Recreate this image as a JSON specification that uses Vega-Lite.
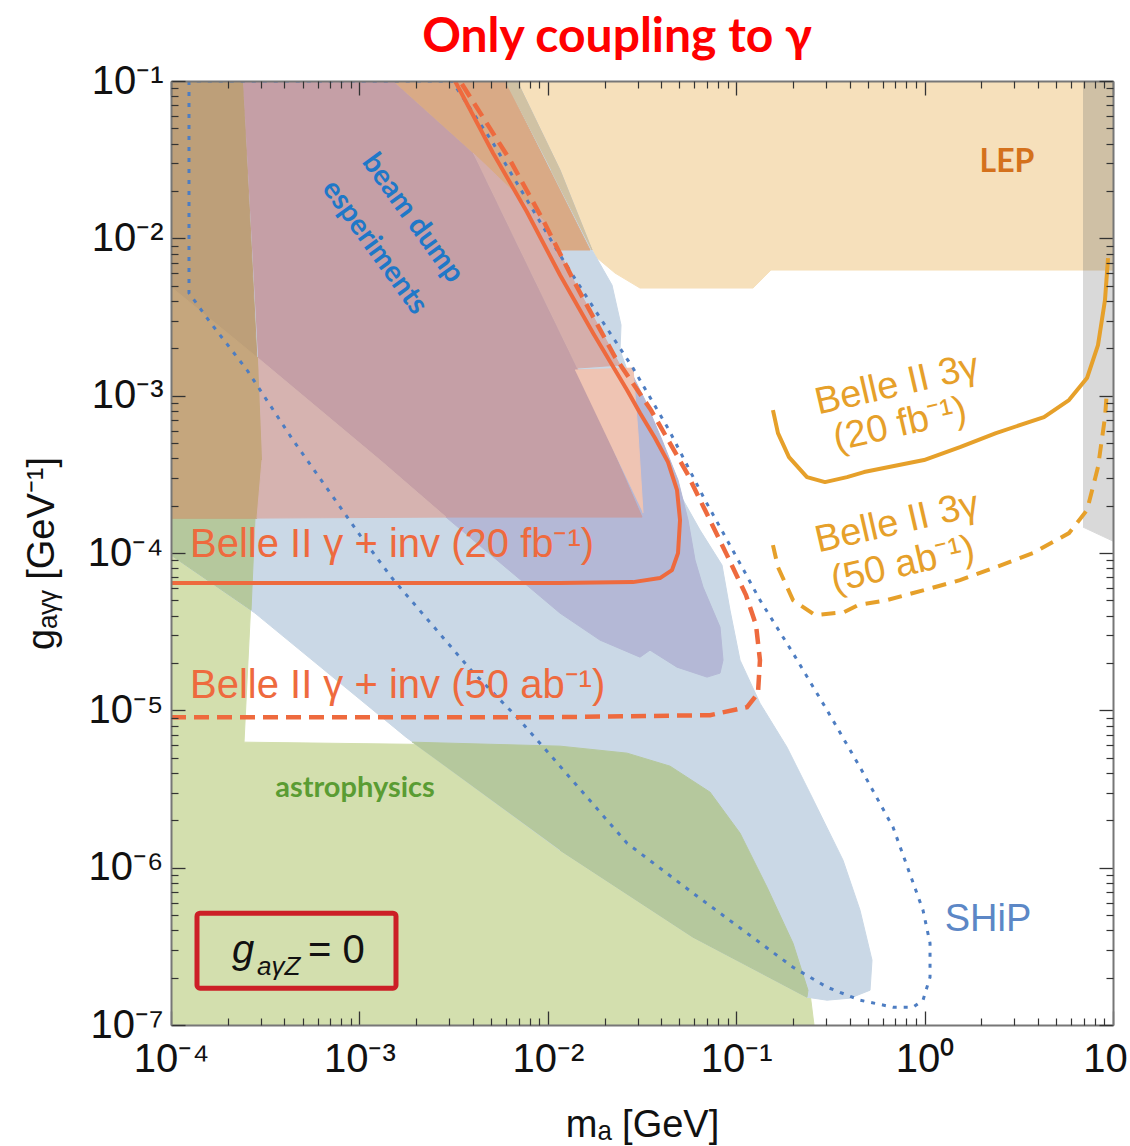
{
"$schema":"https://vega.github.io/schema/vega-lite/v6.json",
"width":942,"height":944,
"autosize":{"type":"none"},
"padding":{"left":171,"top":81,"right":17,"bottom":121},
"background":"white",
"config":{"view":{"stroke":null},"font":"Liberation Sans"},
"datasets":{
"lep":[{"i":0,"m":0.005926,"g":0.1},{"i":1,"m":10,"g":0.1},{"i":2,"m":10,"g":0.006286},{"i":3,"m":0.153,"g":0.006286},{"i":4,"m":0.1228,"g":0.004831},{"i":5,"m":0.03086,"g":0.004831},{"i":6,"m":0.02274,"g":0.006016},{"i":7,"m":0.01802,"g":0.007607}],
"gstrip":[{"i":0,"m":6.931,"g":0.1},{"i":1,"m":10,"g":0.1},{"i":2,"m":10,"g":0.000119},{"i":3,"m":6.931,"g":0.0001461}],
"glep":[{"i":0,"m":6.931,"g":0.1},{"i":1,"m":10,"g":0.1},{"i":2,"m":10,"g":0.006286},{"i":3,"m":6.931,"g":0.006286}],
"green":[{"i":0,"m":0.0001,"g":0.0001667},{"i":1,"m":0.0002792,"g":0.0001667},{"i":2,"m":0.0002441,"g":6.277e-6},{"i":3,"m":0.01161,"g":5.92e-6},{"i":4,"m":0.02633,"g":5.345e-6},{"i":5,"m":0.04453,"g":4.419e-6},{"i":6,"m":0.07262,"g":3.02e-6},{"i":7,"m":0.1048,"g":1.657e-6},{"i":8,"m":0.1457,"g":7.515e-7},{"i":9,"m":0.2002,"g":3.311e-7},{"i":10,"m":0.2464,"g":1.593e-7},{"i":11,"m":0.2588,"g":1e-7},{"i":12,"m":0.0001,"g":1e-7}],
"blue":[{"i":0,"m":0.0001,"g":0.1},{"i":1,"m":0.006863,"g":0.1},{"i":2,"m":0.01161,"g":0.02718},{"i":3,"m":0.01717,"g":0.00843},{"i":4,"m":0.02192,"g":0.005048},{"i":5,"m":0.02447,"g":0.002811},{"i":6,"m":0.02417,"g":0.001949},{"i":7,"m":0.03281,"g":0.0006996},{"i":8,"m":0.04563,"g":0.0002906},{"i":9,"m":0.06427,"g":0.0001398},{"i":10,"m":0.08408,"g":8.38e-5},{"i":11,"m":0.09271,"g":4.335e-5},{"i":12,"m":0.1048,"g":2.085e-5},{"i":13,"m":0.1337,"g":1.111e-5},{"i":14,"m":0.186,"g":5.834e-6},{"i":15,"m":0.2464,"g":2.976e-6},{"i":16,"m":0.3689,"g":1.116e-6},{"i":17,"m":0.4541,"g":5.369e-7},{"i":18,"m":0.5258,"g":2.582e-7},{"i":19,"m":0.5132,"g":1.664e-7},{"i":20,"m":0.4018,"g":1.481e-7},{"i":21,"m":0.3033,"g":1.438e-7},{"i":22,"m":0.2375,"g":1.502e-7},{"i":23,"m":0.059,"g":3.615e-7},{"i":24,"m":0.01161,"g":1.292e-6},{"i":25,"m":0.001768,"g":6.754e-6},{"i":26,"m":0.0002792,"g":4.149e-5},{"i":27,"m":0.0001,"g":9.697e-5}],
"dgL":[{"i":0,"m":0.0001,"g":0.0001667},{"i":1,"m":0.0002792,"g":0.0001667},{"i":2,"m":0.0002659,"g":4.335e-5},{"i":3,"m":0.0001,"g":9.697e-5}],
"dgB":[{"i":0,"m":0.001902,"g":6.277e-6},{"i":1,"m":0.01161,"g":5.92e-6},{"i":2,"m":0.02633,"g":5.345e-6},{"i":3,"m":0.04453,"g":4.419e-6},{"i":4,"m":0.07262,"g":3.02e-6},{"i":5,"m":0.1048,"g":1.657e-6},{"i":6,"m":0.1457,"g":7.515e-7},{"i":7,"m":0.2002,"g":3.311e-7},{"i":8,"m":0.2404,"g":1.664e-7},{"i":9,"m":0.2375,"g":1.502e-7},{"i":10,"m":0.059,"g":3.615e-7},{"i":11,"m":0.01161,"g":1.292e-6}],
"purple":[{"i":0,"m":0.002882,"g":0.0001691},{"i":1,"m":0.01161,"g":4.149e-5},{"i":2,"m":0.01893,"g":2.795e-5},{"i":3,"m":0.03086,"g":2.178e-5},{"i":4,"m":0.03487,"g":2.414e-5},{"i":5,"m":0.04851,"g":1.882e-5},{"i":6,"m":0.07,"g":1.626e-5},{"i":7,"m":0.08205,"g":1.724e-5},{"i":8,"m":0.08511,"g":2.085e-5},{"i":9,"m":0.08205,"g":3.38e-5},{"i":10,"m":0.06666,"g":6.07e-5},{"i":11,"m":0.06046,"g":9.011e-5},{"i":12,"m":0.0555,"g":0.0001619},{"i":13,"m":0.04911,"g":0.0002906},{"i":14,"m":0.04038,"g":0.0005221},{"i":15,"m":0.03281,"g":0.0009376},{"i":16,"m":0.02731,"g":0.001455},{"i":17,"m":0.002882,"g":0.001455}],
"brown":[{"i":0,"m":0.0001,"g":0.1},{"i":1,"m":0.0002411,"g":0.1},{"i":2,"m":0.0003041,"g":0.0003896},{"i":3,"m":0.0002861,"g":0.0001667},{"i":4,"m":0.0001,"g":0.0001667}],
"brownL":[{"i":0,"m":0.0001,"g":0.004903},{"i":1,"m":0.0002896,"g":0.001734},{"i":2,"m":0.0003041,"g":0.0003896},{"i":3,"m":0.0002861,"g":0.0001667},{"i":4,"m":0.0001,"g":0.0001667}],
"mauve":[{"i":0,"m":0.0002411,"g":0.1},{"i":1,"m":0.001508,"g":0.1},{"i":2,"m":0.004008,"g":0.03485},{"i":3,"m":0.01429,"g":0.001498},{"i":4,"m":0.03163,"g":0.0001691},{"i":5,"m":0.002882,"g":0.0001691},{"i":6,"m":0.001286,"g":0.0003896},{"i":7,"m":0.0002896,"g":0.001734}],
"pinkL":[{"i":0,"m":0.0002896,"g":0.001734},{"i":1,"m":0.001286,"g":0.0003896},{"i":2,"m":0.002882,"g":0.0001691},{"i":3,"m":0.0002861,"g":0.0001667},{"i":4,"m":0.0003041,"g":0.0003896}],
"orange":[{"i":0,"m":0.001508,"g":0.1},{"i":1,"m":0.005926,"g":0.1},{"i":2,"m":0.01675,"g":0.00843},{"i":3,"m":0.01133,"g":0.00843},{"i":4,"m":0.00943,"g":0.01307},{"i":5,"m":0.004008,"g":0.03485}],
"strip":[{"i":0,"m":0.005926,"g":0.1},{"i":1,"m":0.006863,"g":0.1},{"i":2,"m":0.01161,"g":0.02718},{"i":3,"m":0.01717,"g":0.00843},{"i":4,"m":0.0104,"g":0.02718}],
"pinkR":[{"i":0,"m":0.004008,"g":0.03485},{"i":1,"m":0.00943,"g":0.01307},{"i":2,"m":0.01429,"g":0.004903},{"i":3,"m":0.02139,"g":0.002037},{"i":4,"m":0.02417,"g":0.001565},{"i":5,"m":0.01429,"g":0.001498}],
"peach":[{"i":0,"m":0.01394,"g":0.001455},{"i":1,"m":0.02833,"g":0.001498},{"i":2,"m":0.03012,"g":0.0005783},{"i":3,"m":0.03202,"g":0.0001794}],
"rs":[{"i":0,"m":0.0001,"g":6.436e-5},{"i":1,"m":0.01161,"g":6.436e-5},{"i":2,"m":0.02833,"g":6.531e-5},{"i":3,"m":0.03941,"g":6.927e-5},{"i":4,"m":0.04563,"g":7.787e-5},{"i":5,"m":0.04911,"g":9.985e-5},{"i":6,"m":0.05033,"g":0.0001619},{"i":7,"m":0.04851,"g":0.0002511},{"i":8,"m":0.04345,"g":0.0003784},{"i":9,"m":0.03707,"g":0.0005377},{"i":10,"m":0.03086,"g":0.0007753},{"i":11,"m":0.02633,"g":0.001085},{"i":12,"m":0.01738,"g":0.0025},{"i":13,"m":0.01161,"g":0.005843},{"i":14,"m":0.007755,"g":0.0147},{"i":15,"m":0.005118,"g":0.03485},{"i":16,"m":0.003217,"g":0.1}],
"rd":[{"i":0,"m":0.0001,"g":9.052e-6},{"i":1,"m":0.01161,"g":9.052e-6},{"i":2,"m":0.07262,"g":9.321e-6},{"i":3,"m":0.1141,"g":1.048e-5},{"i":4,"m":0.1305,"g":1.286e-5},{"i":5,"m":0.1337,"g":2.085e-5},{"i":6,"m":0.1274,"g":3.48e-5},{"i":7,"m":0.1127,"g":5.4e-5},{"i":8,"m":0.08937,"g":9.697e-5},{"i":9,"m":0.06832,"g":0.0001874},{"i":10,"m":0.05483,"g":0.000322},{"i":11,"m":0.0353,"g":0.0008098},{"i":12,"m":0.02274,"g":0.001759},{"i":13,"m":0.01429,"g":0.004903},{"i":14,"m":0.00943,"g":0.01307},{"i":15,"m":0.0063,"g":0.03146},{"i":16,"m":0.00342,"g":0.1}],
"bd":[{"i":0,"m":0.0001246,"g":0.1},{"i":1,"m":0.0001246,"g":0.004489},{"i":2,"m":0.0001611,"g":0.002937},{"i":3,"m":0.0002532,"g":0.001455},{"i":4,"m":0.0004442,"g":0.0005221},{"i":5,"m":0.001007,"g":0.0001299},{"i":6,"m":0.00149,"g":6.927e-5},{"i":7,"m":0.003911,"g":1.801e-5},{"i":8,"m":0.006863,"g":9.052e-6},{"i":9,"m":0.01161,"g":4.419e-6},{"i":10,"m":0.02633,"g":1.431e-6},{"i":11,"m":0.059,"g":6.886e-7},{"i":12,"m":0.1087,"g":4.006e-7},{"i":13,"m":0.2002,"g":2.331e-7},{"i":14,"m":0.3033,"g":1.739e-7},{"i":15,"m":0.4541,"g":1.438e-7},{"i":16,"m":0.6796,"g":1.298e-7},{"i":17,"m":0.8678,"g":1.298e-7},{"i":18,"m":0.9806,"g":1.438e-7},{"i":19,"m":1.0686,"g":2.013e-7},{"i":20,"m":1.0686,"g":3.311e-7},{"i":21,"m":0.9806,"g":5.369e-7},{"i":22,"m":0.6796,"g":1.809e-6},{"i":23,"m":0.4541,"g":4.355e-6},{"i":24,"m":0.3033,"g":1.003e-5},{"i":25,"m":0.2002,"g":2.31e-5},{"i":26,"m":0.1337,"g":5.019e-5},{"i":27,"m":0.1074,"g":8.136e-5},{"i":28,"m":0.06832,"g":0.0002169},{"i":29,"m":0.04399,"g":0.0006044},{"i":30,"m":0.02833,"g":0.001498},{"i":31,"m":0.01781,"g":0.0035},{"i":32,"m":0.01161,"g":0.007833},{"i":33,"m":0.007755,"g":0.01752},{"i":34,"m":0.005118,"g":0.04036},{"i":35,"m":0.003101,"g":0.1},{"i":36,"m":0.0001246,"g":0.1}],
"os":[{"i":0,"m":0.1567,"g":0.0008098},{"i":1,"m":0.1666,"g":0.0005783},{"i":2,"m":0.1906,"g":0.0004071},{"i":3,"m":0.2375,"g":0.0003037},{"i":4,"m":0.296,"g":0.0002823},{"i":5,"m":0.3874,"g":0.0003037},{"i":6,"m":0.4769,"g":0.0003268},{"i":7,"m":0.9926,"g":0.0003896},{"i":8,"m":1.541,"g":0.0004712},{"i":9,"m":2.393,"g":0.0005783},{"i":10,"m":4.303,"g":0.000731},{"i":11,"m":5.84,"g":0.0009376},{"i":12,"m":7.278,"g":0.001294},{"i":13,"m":8.325,"g":0.002097},{"i":14,"m":9.069,"g":0.004053},{"i":15,"m":9.408,"g":0.007497}],
"od":[{"i":0,"m":0.1567,"g":0.0001123},{"i":1,"m":0.1666,"g":8.136e-5},{"i":2,"m":0.2002,"g":5.019e-5},{"i":3,"m":0.2619,"g":4.03e-5},{"i":4,"m":0.3734,"g":4.21e-5},{"i":5,"m":0.4432,"g":4.665e-5},{"i":6,"m":0.6316,"g":5.019e-5},{"i":7,"m":0.9926,"g":5.809e-5},{"i":8,"m":1.541,"g":6.725e-5},{"i":9,"m":2.393,"g":8.136e-5},{"i":10,"m":3.762,"g":9.985e-5},{"i":11,"m":5.84,"g":0.0001338},{"i":12,"m":7.278,"g":0.0001874},{"i":13,"m":8.325,"g":0.0003516},{"i":14,"m":9.069,"g":0.000731},{"i":15,"m":9.294,"g":0.001085}]
},
"encoding":{
"x":{"field":"m","type":"quantitative","scale":{"type":"log","domain":[0.0001,10],"nice":false},"axis":null},
"y":{"field":"g","type":"quantitative","scale":{"type":"log","domain":[1e-7,0.1],"nice":false},"axis":null},
"order":{"field":"i","type":"quantitative"}
},
"layer":[
{"data":{"name":"lep"},"mark":{"type":"line","fill":"#f6e0bb","stroke":"#f6e0bb","strokeWidth":1,"clip":true},
 "encoding":{
  "x":{"field":"m","type":"quantitative","scale":{"type":"log","domain":[0.0001,10],"nice":false},
   "axis":{"orient":"bottom","values":[0.0001,0.001,0.01,0.1,1,10],"labelExpr":"datum.value >= 10 ? '10' : '10' + ['⁻⁷','⁻⁶','⁻⁵','⁻⁴','⁻³','⁻²','⁻¹','⁰','¹'][round(log(datum.value)/LN10)+7]","labelOffset":{"condition":{"test":"datum.value >= 10","value":-8},"value":0},"tickSize":-14,"tickWidth":1.3,"tickColor":"#333333","domain":true,"domainColor":"#777777","domainWidth":2,"grid":false,"labelFont":"Liberation Sans","labelFontSize":40,"labelColor":"#111111","labelPadding":28,"labelOverlap":false,"labelFlush":false,"title":"mₐ [GeV]","titleFont":"Liberation Sans","titleFontSize":38,"titleFontWeight":"normal","titleColor":"#111111","titleY":111,"titleBaseline":"alphabetic","zindex":1}},
  "y":{"field":"g","type":"quantitative","scale":{"type":"log","domain":[1e-7,0.1],"nice":false},
   "axis":{"orient":"left","values":[1e-7,1e-6,1e-5,0.0001,0.001,0.01,0.1],"labelExpr":"'10' + ['⁻⁷','⁻⁶','⁻⁵','⁻⁴','⁻³','⁻²','⁻¹','⁰','¹'][round(log(datum.value)/LN10)+7]","tickSize":-14,"tickWidth":1.3,"tickColor":"#333333","domain":true,"domainColor":"#777777","domainWidth":2,"grid":false,"labelFont":"Liberation Sans","labelFontSize":40,"labelColor":"#111111","labelPadding":22,"labelOverlap":false,"labelFlush":false,"title":"gₐᵧᵧ [GeV⁻¹]","titleFont":"Liberation Sans","titleFontSize":38,"titleFontWeight":"normal","titleColor":"#111111","titleX":-129,"titleY":472,"titleAngle":-90,"titleAlign":"center","titleBaseline":"middle","zindex":1}}
 }},
{"data":{"name":"gstrip"},"mark":{"type":"line","fill":"#d9d9d9","stroke":"#d9d9d9","strokeWidth":1,"clip":true},
 "encoding":{
  "x":{"field":"m","type":"quantitative","scale":{"type":"log","domain":[0.0001,10],"nice":false},
   "axis":{"orient":"bottom","values":[0.0002,0.0003,0.0004,0.0005,0.0006,0.0007,0.0008,0.0009,0.002,0.003,0.004,0.005,0.006,0.007,0.008,0.009,0.02,0.03,0.04,0.05,0.06,0.07,0.08,0.09,0.2,0.3,0.4,0.5,0.6,0.7,0.8,0.9,2,3,4,5,6,7,8,9],"labels":false,"tickSize":-7,"tickWidth":1.2,"tickColor":"#333333","domain":false,"grid":false,"title":null,"zindex":1}},
  "y":{"field":"g","type":"quantitative","scale":{"type":"log","domain":[1e-7,0.1],"nice":false},
   "axis":{"orient":"left","values":[2e-7,3e-7,4e-7,5e-7,6e-7,7e-7,8e-7,9e-7,2e-6,3e-6,4e-6,5e-6,6e-6,7e-6,8e-6,9e-6,2e-5,3e-5,4e-5,5e-5,6e-5,7e-5,8e-5,9e-5,0.0002,0.0003,0.0004,0.0005,0.0006,0.0007,0.0008,0.0009,0.002,0.003,0.004,0.005,0.006,0.007,0.008,0.009,0.02,0.03,0.04,0.05,0.06,0.07,0.08,0.09],"labels":false,"tickSize":-7,"tickWidth":1.2,"tickColor":"#333333","domain":false,"grid":false,"title":null,"zindex":1}}
 }},
{"data":{"name":"glep"},"mark":{"type":"line","fill":"#cfc0a5","stroke":"#cfc0a5","strokeWidth":1,"clip":true},
 "encoding":{
  "x":{"field":"m","type":"quantitative","scale":{"type":"log","domain":[0.0001,10],"nice":false},
   "axis":{"orient":"top","values":[0.0001,0.001,0.01,0.1,1,10],"labels":false,"tickSize":-14,"tickWidth":1.3,"tickColor":"#333333","domain":true,"domainColor":"#777777","domainWidth":2,"grid":false,"title":null,"zindex":1}},
  "y":{"field":"g","type":"quantitative","scale":{"type":"log","domain":[1e-7,0.1],"nice":false},
   "axis":{"orient":"right","values":[1e-7,1e-6,1e-5,0.0001,0.001,0.01,0.1],"labels":false,"tickSize":-14,"tickWidth":1.3,"tickColor":"#333333","domain":true,"domainColor":"#777777","domainWidth":2,"grid":false,"title":null,"zindex":1}}
 }},
{"data":{"name":"green"},"mark":{"type":"line","fill":"#d3dfae","stroke":"#d3dfae","strokeWidth":1,"clip":true},
 "encoding":{
  "x":{"field":"m","type":"quantitative","scale":{"type":"log","domain":[0.0001,10],"nice":false},
   "axis":{"orient":"top","values":[0.0002,0.0003,0.0004,0.0005,0.0006,0.0007,0.0008,0.0009,0.002,0.003,0.004,0.005,0.006,0.007,0.008,0.009,0.02,0.03,0.04,0.05,0.06,0.07,0.08,0.09,0.2,0.3,0.4,0.5,0.6,0.7,0.8,0.9,2,3,4,5,6,7,8,9],"labels":false,"tickSize":-7,"tickWidth":1.2,"tickColor":"#333333","domain":false,"grid":false,"title":null,"zindex":1}},
  "y":{"field":"g","type":"quantitative","scale":{"type":"log","domain":[1e-7,0.1],"nice":false},
   "axis":{"orient":"right","values":[2e-7,3e-7,4e-7,5e-7,6e-7,7e-7,8e-7,9e-7,2e-6,3e-6,4e-6,5e-6,6e-6,7e-6,8e-6,9e-6,2e-5,3e-5,4e-5,5e-5,6e-5,7e-5,8e-5,9e-5,0.0002,0.0003,0.0004,0.0005,0.0006,0.0007,0.0008,0.0009,0.002,0.003,0.004,0.005,0.006,0.007,0.008,0.009,0.02,0.03,0.04,0.05,0.06,0.07,0.08,0.09],"labels":false,"tickSize":-7,"tickWidth":1.2,"tickColor":"#333333","domain":false,"grid":false,"title":null,"zindex":1}}
 }},
{"data":{"name":"blue"},"mark":{"type":"line","fill":"#cad8e6","stroke":"#cad8e6","strokeWidth":1,"clip":true}},
{"data":{"name":"dgL"},"mark":{"type":"line","fill":"#b5c89d","stroke":"#b5c89d","strokeWidth":1,"clip":true}},
{"data":{"name":"dgB"},"mark":{"type":"line","fill":"#b5c89d","stroke":"#b5c89d","strokeWidth":1,"clip":true}},
{"data":{"name":"purple"},"mark":{"type":"line","fill":"#b4b8d6","stroke":"#b4b8d6","strokeWidth":1,"clip":true}},
{"data":{"name":"brown"},"mark":{"type":"line","fill":"#bd9f79","stroke":"#bd9f79","strokeWidth":1,"clip":true}},
{"data":{"name":"brownL"},"mark":{"type":"line","fill":"#c5a67d","stroke":"#c5a67d","strokeWidth":1,"clip":true}},
{"data":{"name":"mauve"},"mark":{"type":"line","fill":"#c59fa6","stroke":"#c59fa6","strokeWidth":1,"clip":true}},
{"data":{"name":"pinkL"},"mark":{"type":"line","fill":"#d6b3b0","stroke":"#d6b3b0","strokeWidth":1,"clip":true}},
{"data":{"name":"orange"},"mark":{"type":"line","fill":"#d9aa86","stroke":"#d9aa86","strokeWidth":1,"clip":true}},
{"data":{"name":"strip"},"mark":{"type":"line","fill":"#d0c2a4","stroke":"#d0c2a4","strokeWidth":1,"clip":true}},
{"data":{"name":"pinkR"},"mark":{"type":"line","fill":"#d5aeab","stroke":"#d5aeab","strokeWidth":1,"clip":true}},
{"data":{"name":"peach"},"mark":{"type":"line","fill":"#efc4b3","stroke":"#efc4b3","strokeWidth":1,"clip":true}},
{"data":{"name":"bd"},"mark":{"type":"line","stroke":"#4d7dc2","strokeWidth":3,"strokeDash":[4,7],"clip":true}},
{"data":{"name":"rs"},"mark":{"type":"line","stroke":"#ee6a3e","strokeWidth":4,"strokeJoin":"round","clip":true}},
{"data":{"name":"rd"},"mark":{"type":"line","stroke":"#ee6a3e","strokeWidth":4.5,"strokeDash":[15,8],"clip":true}},
{"data":{"name":"os"},"mark":{"type":"line","stroke":"#e6a02a","strokeWidth":4,"strokeJoin":"round","clip":true}},
{"data":{"name":"od"},"mark":{"type":"line","stroke":"#e6a02a","strokeWidth":4,"strokeDash":[14,9],"clip":true}},
{"data":{"values":[{"t":"beam dump","m":0.001925,"g":0.01346},{"t":"esperiments","m":0.00121,"g":0.008802}]},
 "mark":{"type":"text","font":"Lato","fontWeight":"bold","fontSize":29,"angle":54,"color":"#1f78c8","align":"center","baseline":"middle"},
 "encoding":{"text":{"field":"t"}}},
{"data":{"values":[{"t":"LEP","m":2.738,"g":0.03055}]},
 "mark":{"type":"text","font":"Lato","fontWeight":"bold","fontSize":32,"color":"#d4711c","align":"center","baseline":"middle"},
 "encoding":{"text":{"field":"t"}}},
{"data":{"values":[{"t":"astrophysics","m":0.0009477,"g":3.202e-6}]},
 "mark":{"type":"text","font":"Lato","fontWeight":"bold","fontSize":29,"color":"#5a9c33","align":"center","baseline":"middle"},
 "encoding":{"text":{"field":"t"}}},
{"data":{"values":[{"t":"SHiP","m":2.17,"g":4.638e-7}]},
 "mark":{"type":"text","font":"Liberation Sans","fontSize":38,"color":"#5c87c6","align":"center","baseline":"middle"},
 "encoding":{"text":{"field":"t"}}},
{"data":{"values":[{"t":"Belle II γ + inv (20 fb⁻¹)","m":0.0001261,"g":0.0001123},{"t":"Belle II γ + inv (50 ab⁻¹)","m":0.0001261,"g":1.425e-5}]},
 "mark":{"type":"text","font":"Liberation Sans","fontSize":40,"color":"#ee6a3e","align":"left","baseline":"middle"},
 "encoding":{"text":{"field":"t"}}},
{"data":{"values":[{"t":"Belle II 3γ","m":0.7138,"g":0.001168},{"t":"(20 fb⁻¹)","m":0.7403,"g":0.0006503},{"t":"Belle II 3γ","m":0.7138,"g":0.000155},{"t":"(50 ab⁻¹)","m":0.768,"g":8.38e-5}]},
 "mark":{"type":"text","font":"Liberation Sans","fontSize":38,"angle":-13,"color":"#e6a02a","align":"center","baseline":"middle"},
 "encoding":{"text":{"field":"t"}}},
{"data":{"values":[{"m":0.0001374,"m2":0.001564,"g":5.137e-7,"g2":1.714e-7}]},
 "mark":{"type":"rect","fill":"#ffffff","fillOpacity":0,"stroke":"#cc1f26","strokeWidth":5,"cornerRadius":3},
 "encoding":{"x2":{"field":"m2"},"y2":{"field":"g2"}}},
{"data":{"values":[{"t":"g","m":0.0002411,"g":2.471e-7}]},
 "mark":{"type":"text","font":"Liberation Sans","fontStyle":"italic","fontSize":40,"color":"#111111","align":"center","baseline":"alphabetic"},
 "encoding":{"text":{"field":"t"}}},
{"data":{"values":[{"t":"aγZ","m":0.0002861,"g":2.073e-7}]},
 "mark":{"type":"text","font":"Liberation Sans","fontStyle":"italic","fontSize":26,"color":"#111111","align":"left","baseline":"alphabetic"},
 "encoding":{"text":{"field":"t"}}},
{"data":{"values":[{"t":"= 0","m":0.0005336,"g":2.471e-7}]},
 "mark":{"type":"text","font":"Liberation Sans","fontSize":40,"color":"#111111","align":"left","baseline":"alphabetic"},
 "encoding":{"text":{"field":"t"}}},
{"data":{"values":[{"t":"Only coupling to γ","m":0.0233,"g":0.1529}]},
 "mark":{"type":"text","font":"Lato","fontWeight":"bold","fontSize":48,"color":"#ff0000","align":"center","baseline":"alphabetic"},
 "encoding":{"text":{"field":"t"}}}
],
"resolve":{"axis":{"x":"independent","y":"independent"}}
}
